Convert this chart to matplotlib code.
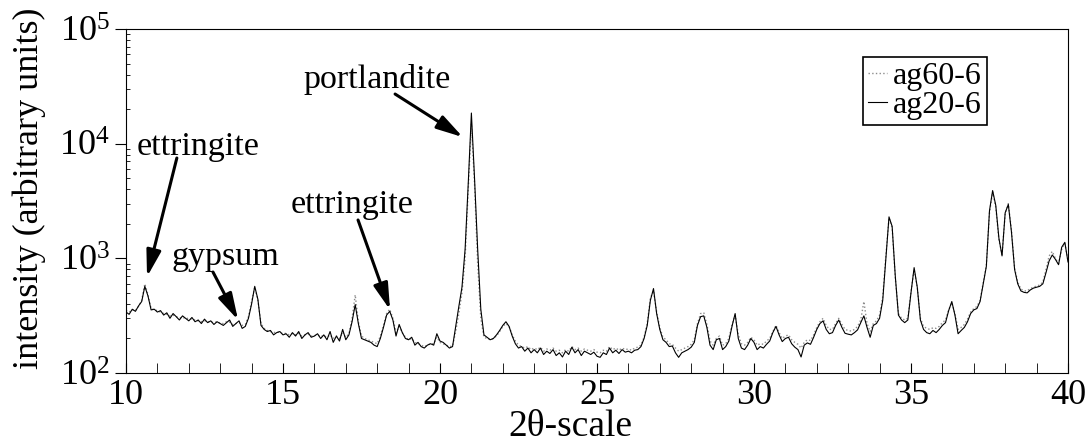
import numpy as np
import matplotlib
matplotlib.use('Agg')
import matplotlib.pyplot as plt

plt.rcParams['font.family'] = ['Liberation Serif', 'DejaVu Serif']
plt.rcParams['mathtext.fontset'] = 'custom'
plt.rcParams['mathtext.rm'] = 'Liberation Serif'
plt.rcParams['mathtext.it'] = 'Liberation Serif:italic'

# 2-theta positions, 10..40 in steps of 0.1
two_theta = [round(10 + 0.1 * i, 1) for i in range(301)]

# ag20-6 (solid) intensities
ag20 = [
    340, 325, 360, 345, 385, 420, 570, 470, 355, 360, 340,
    350, 320, 335, 300, 330, 310, 290, 315, 300, 285,
    305, 280, 290, 270, 295, 275, 285, 265, 280, 270,
    260, 275, 290, 255, 270, 285, 245, 255, 300, 400,
    570, 440, 260, 240, 230, 235, 215, 225, 230, 215,
    220, 205, 225, 210, 230, 200, 215, 225, 205, 210,
    220, 200, 215, 195, 230, 185, 210, 190, 240, 195,
    215, 280, 395, 270, 200, 195, 190, 185, 175, 170,
    200, 250, 320, 345, 290, 210, 265, 225, 200, 195,
    205, 175, 185, 170, 165, 175, 180, 175, 220, 190,
    185, 175, 165, 170, 255, 380, 560, 1200, 4500, 18500,
    5000, 1200, 360, 215, 205, 195, 200, 215, 235, 260,
    280, 255, 210, 180, 165, 170, 155, 165, 150, 160,
    150, 165, 145, 155, 148, 160, 142, 150, 138, 155,
    145, 168, 150, 160, 142, 155, 150, 145, 152, 140,
    137, 150, 145, 165, 150, 158, 148, 160, 152, 155,
    150, 158, 160, 170, 200, 260, 430, 545, 330, 240,
    195, 185, 170, 172, 150, 137, 150, 155, 160, 168,
    185, 260, 310, 315, 250, 175, 160, 195, 200, 160,
    170, 190, 255, 330, 200, 165, 160, 175, 200, 185,
    160, 170, 165, 178, 190, 225, 255, 215, 188, 200,
    205, 180, 168, 160, 138, 175, 183, 178, 205, 240,
    270, 285, 240, 220, 225, 260, 290, 250, 222, 218,
    215, 225, 238, 275, 315, 250, 205, 260, 270, 300,
    430, 1000, 2300, 1900, 700, 320, 290, 275, 290, 500,
    830, 560, 290, 240, 225, 220, 235, 225, 240, 260,
    275, 350, 420, 320, 220, 235, 250, 280, 330, 355,
    365, 420, 600, 850, 2600, 3900, 2900, 1500, 1050, 2500,
    2950, 1700, 800, 600, 520, 505, 500, 530, 550, 560,
    570, 600, 750, 950, 1070, 980, 880, 1250, 1380, 930,
]

# ag60-6 (dotted) intensities
ag60 = [
    350, 340, 355, 350, 380, 430, 600, 480, 365, 355, 350,
    340, 330, 325, 315, 320, 310, 305, 300, 305, 295,
    295, 290, 285, 280, 285, 280, 278, 275, 280, 272,
    270, 280, 278, 265, 270, 275, 260, 265, 310, 420,
    560, 430, 270, 245, 235, 230, 225, 228, 225, 220,
    222, 215, 220, 215, 222, 210, 215, 218, 210, 212,
    215, 208, 212, 205, 215, 200, 210, 200, 225, 205,
    220, 300, 480, 280, 210, 200, 195, 190, 185, 180,
    210, 260, 330, 360, 300, 225, 255, 225, 205, 195,
    200, 185, 180, 175, 170, 175, 180, 180, 205, 185,
    180, 175, 170, 172, 230, 330, 500, 1000, 4000, 15000,
    4500, 900, 300, 205, 200, 195, 200, 210, 230, 255,
    270, 255, 215, 190, 175, 170, 165, 170, 160, 165,
    160, 168, 155, 162, 158, 165, 155, 158, 150, 160,
    155, 170, 160, 165, 155, 162, 158, 155, 160, 152,
    150, 158, 155, 170, 160, 165, 158, 165, 160, 162,
    158, 165, 168, 175, 205, 270, 450, 520, 340, 250,
    205, 195, 180, 178, 165, 155, 160, 165, 170, 178,
    195, 270, 330, 335, 265, 190, 175, 200, 210, 175,
    180, 200, 265, 320, 215, 180, 175, 185, 205, 195,
    175, 180, 178, 190, 200, 230, 260, 225, 200, 210,
    215, 195, 185, 178, 165, 185, 195, 192, 215, 250,
    280, 300, 260, 240, 240, 270, 300, 265, 240, 235,
    232, 240, 255, 290, 420, 270, 230, 270, 285, 320,
    460, 1050, 2250, 1850, 680, 330, 300, 290, 300, 510,
    800, 560, 300, 255, 245, 240, 248, 245, 255, 275,
    290, 355, 410, 330, 240, 250, 265, 295, 340, 365,
    380, 430, 610, 870, 2500, 3800, 2800, 1450, 1080, 2450,
    3000, 1750, 820, 620, 540, 520, 520, 545, 560, 575,
    585, 620, 800, 1050, 1150, 1000, 900, 1200, 1350, 960,
]

# annotations: label, text position (baseline), arrow start, arrow tip
labels = ['ettringite', 'gypsum', 'ettringite', 'portlandite']
text_xy = [(12.28, 7960), (13.18, 875), (17.21, 2490), (18.01, 30600)]
start_xy = [(11.62, 7500), (12.77, 760), (17.39, 2160), (18.57, 27100)]
tip_xy = [(10.67, 690), (13.57, 290), (18.41, 355), (20.73, 11400)]

fig = plt.figure(figsize=(10.88, 4.43), dpi=100)
ax = fig.add_axes([0.1158, 0.158, 0.8658, 0.7765])

ax.plot(two_theta, ag60, color='0.55', linestyle=':', linewidth=1.0, label='ag60-6')
ax.plot(two_theta, ag20, color='black', linewidth=0.8, label='ag20-6')

ax.set_yscale('log')
ax.set_xlim(10, 40)
ax.set_ylim(100, 100000)
ax.set_xticks([10, 15, 20, 25, 30, 35, 40])
ax.set_xticks(range(10, 41), minor=True)
ax.tick_params(axis='x', which='both', direction='in', length=7, labelsize=26, pad=4)
ax.tick_params(axis='y', which='major', direction='out', length=8, labelsize=26)
ax.tick_params(axis='y', which='minor', direction='in', length=3)
ax.set_xlabel('2\u03b8-scale', fontsize=27)
ax.xaxis.set_label_coords(0.472, -0.105)
ax.set_ylabel('intensity (arbitrary units)', fontsize=26, labelpad=2)
ax.yaxis.set_label_coords(-0.085, 0.538)

for lab, txy in zip(labels, text_xy):
    ax.text(txy[0], txy[1], lab, fontsize=24.5, ha='center', va='baseline')
for sxy, pxy in zip(start_xy, tip_xy):
    ax.annotate('', xy=pxy, xytext=sxy,
                arrowprops=dict(arrowstyle='-|>,head_length=0.8,head_width=0.22',
                                color='black', lw=2.2, mutation_scale=20,
                                shrinkA=0, shrinkB=0))

leg = ax.legend(loc='upper right', bbox_to_anchor=(0.914, 0.919), fontsize=23,
                handlelength=0.6, handletextpad=0.2, borderpad=0.15,
                labelspacing=0.0, fancybox=False, framealpha=1, borderaxespad=0)
leg.get_frame().set_edgecolor('black')
leg.get_frame().set_linewidth(1.2)

fig.savefig('out.png', dpi=100)
